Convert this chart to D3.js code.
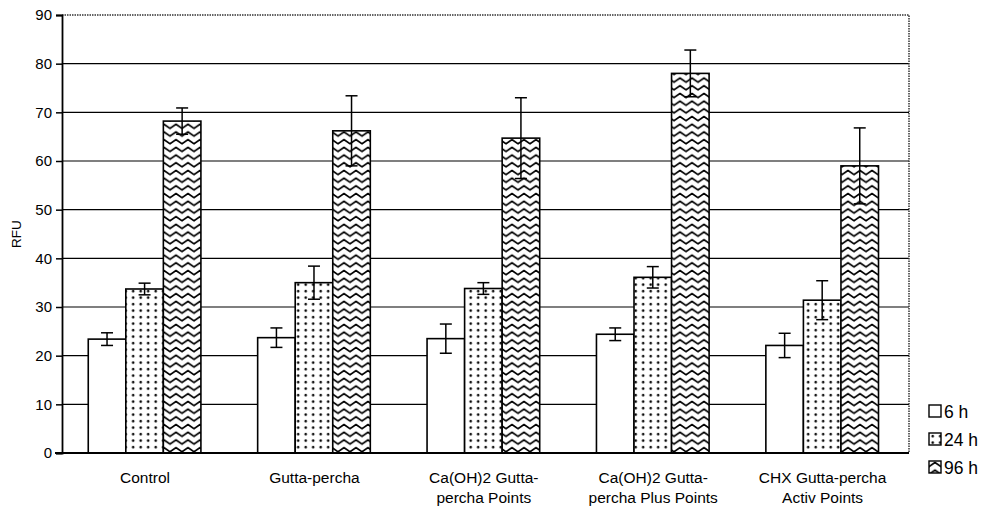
<!DOCTYPE html>
<html>
<head>
<meta charset="utf-8">
<script src="https://cdn.jsdelivr.net/npm/d3@7"></script>
<style>
  body { margin: 0; background: #fff; }
  svg text { font-family: "Liberation Sans", Arial, sans-serif; fill: #000; }
</style>
</head>
<body>
<div id="chart"></div>
<script>
const categories = [
  ['Control'],
  ['Gutta-percha'],
  ['Ca(OH)2 Gutta-', 'percha Points'],
  ['Ca(OH)2 Gutta-', 'percha Plus Points'],
  ['CHX Gutta-percha', 'Activ Points']
];
const seriesNames = ['6 h', '24 h', '96 h'];
const values6h = [23.4, 23.7, 23.5, 24.4, 22.1];
const values24h = [33.7, 35.0, 33.8, 36.1, 31.4];
const values96h = [68.2, 66.2, 64.7, 78.0, 59.0];
const errors6h = [1.3, 2.0, 3.0, 1.3, 2.5];
const errors24h = [1.2, 3.4, 1.2, 2.2, 4.0];
const errors96h = [2.7, 7.2, 8.3, 4.8, 7.8];
const yTicks = [0, 10, 20, 30, 40, 50, 60, 70, 80, 90];

const W = 983, H = 508;
const margin = { top: 15, right: 74, bottom: 55, left: 62 };
const width = W - margin.left - margin.right;
const height = H - margin.top - margin.bottom;

const allValues = [values6h, values24h, values96h];
const allErrors = [errors6h, errors24h, errors96h];
const rows = [];
categories.forEach((c, i) => {
  seriesNames.forEach((s, j) => {
    rows.push({ cat: i, series: s, v: allValues[j][i], e: allErrors[j][i] });
  });
});

const svg = d3.select('#chart').append('svg')
  .attr('width', W).attr('height', H);

const defs = svg.append('defs');
// dotted pattern for 24 h
const dots = defs.append('pattern').attr('id', 'dots')
  .attr('patternUnits', 'userSpaceOnUse').attr('width', 7.5).attr('height', 6.5);
dots.append('rect').attr('width', 7.5).attr('height', 6.5).attr('fill', '#fff');
dots.append('circle').attr('cx', 3.7).attr('cy', 3.2).attr('r', 1.3).attr('fill', '#000');
// wave pattern for 96 h
const wave = defs.append('pattern').attr('id', 'wave')
  .attr('patternUnits', 'userSpaceOnUse').attr('width', 12).attr('height', 7.7);
wave.append('rect').attr('width', 12).attr('height', 7.7).attr('fill', '#fff');
wave.append('path')
  .attr('d', 'M-3,2 L0,5.5 L6,1.5 L12,5.5 L15,3.5')
  .attr('fill', 'none').attr('stroke', '#000').attr('stroke-width', 1.7)
  .attr('stroke-linejoin', 'round');

const fills = { '6 h': '#fff', '24 h': 'url(#dots)', '96 h': 'url(#wave)' };

const g = svg.append('g').attr('transform', `translate(${margin.left},${margin.top})`);

const y = d3.scaleLinear().domain([0, 90]).range([height, 0]);
const x0 = d3.scaleBand().domain(d3.range(categories.length)).range([0, width]).padding(0);
const x1 = d3.scaleBand().domain(seriesNames)
  .range([x0.bandwidth() * 0.155, x0.bandwidth() * 0.82]).padding(0);

// gridlines
g.append('g').selectAll('line').data(yTicks.filter(t => t > 0 && t < 90)).enter()
  .append('line')
  .attr('x1', 0).attr('x2', width)
  .attr('y1', d => y(d)).attr('y2', d => y(d))
  .attr('stroke', '#000').attr('stroke-width', 1.2);

// frame top and right (dotted)
g.append('path')
  .attr('d', `M0,${y(90)} H${width} V${height}`)
  .attr('fill', 'none').attr('stroke', '#333').attr('stroke-width', 1.5)
  .attr('stroke-dasharray', '1.5,1');

// bars
g.append('g').selectAll('rect').data(rows).enter().append('rect')
  .attr('x', d => x0(d.cat) + x1(d.series))
  .attr('y', d => y(d.v))
  .attr('width', x1.bandwidth())
  .attr('height', d => y(0) - y(d.v))
  .attr('fill', d => fills[d.series])
  .attr('stroke', '#000').attr('stroke-width', 1.6);

// error bars
const eg = g.append('g').attr('stroke', '#000').attr('stroke-width', 1.5);
rows.forEach(d => {
  const cx = x0(d.cat) + x1(d.series) + x1.bandwidth() / 2;
  eg.append('line').attr('x1', cx).attr('x2', cx).attr('y1', y(d.v + d.e)).attr('y2', y(d.v - d.e));
  eg.append('line').attr('x1', cx - 6).attr('x2', cx + 6).attr('y1', y(d.v + d.e)).attr('y2', y(d.v + d.e));
  eg.append('line').attr('x1', cx - 6).attr('x2', cx + 6).attr('y1', y(d.v - d.e)).attr('y2', y(d.v - d.e));
});

// y axis
const yAxis = g.append('g')
  .call(d3.axisLeft(y).tickValues(yTicks).tickSize(6).tickPadding(4));
yAxis.select('.domain').attr('stroke', '#000').attr('stroke-width', 1.8);
yAxis.selectAll('.tick line').attr('stroke', '#000').attr('stroke-width', 1.5);
yAxis.selectAll('text').style('font-size', '15px');

// x axis line
g.append('line').attr('x1', -7).attr('x2', width).attr('y1', height).attr('y2', height)
  .attr('stroke', '#000').attr('stroke-width', 1.8);

// x labels
const xl = g.append('g').selectAll('text').data(categories).enter().append('text')
  .attr('text-anchor', 'middle')
  .attr('transform', (d, i) => `translate(${x0(i) + x0.bandwidth() * 0.49},${height + 30})`)
  .style('font-size', '15.5px');
xl.selectAll('tspan').data(d => d).enter().append('tspan')
  .attr('x', 0).attr('dy', (d, i) => i === 0 ? 0 : 20).text(d => d);

// y title
svg.append('text')
  .attr('transform', `translate(21,234) rotate(-90)`)
  .attr('text-anchor', 'middle').style('font-size', '13.5px').text('RFU');

// legend
const leg = svg.append('g').attr('transform', 'translate(929,405)');
seriesNames.forEach((s, i) => {
  const row = leg.append('g').attr('transform', `translate(0,${i * 28})`);
  row.append('rect').attr('x', 0).attr('y', 0).attr('width', 12).attr('height', 12)
    .attr('fill', fills[s]).attr('stroke', '#000').attr('stroke-width', 1.4);
  row.append('text').attr('x', 15).attr('y', 12.5).style('font-size', '17.5px').text(s);
});
</script>
</body>
</html>
